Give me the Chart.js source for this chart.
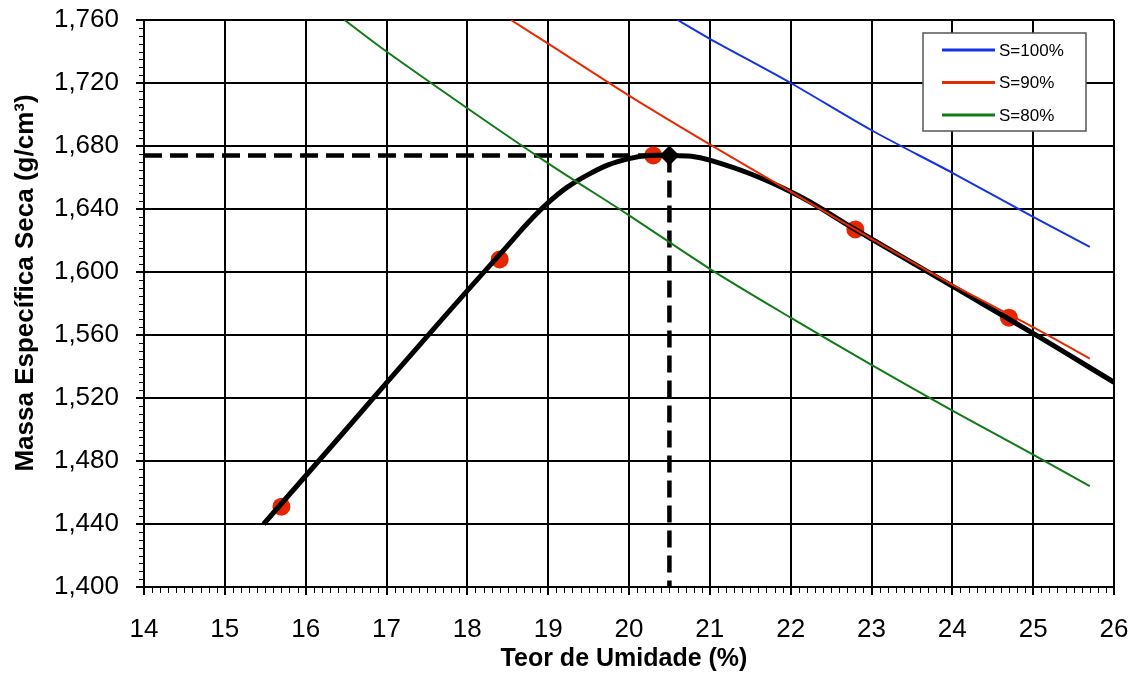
<!DOCTYPE html>
<html>
<head>
<meta charset="utf-8">
<script src="https://cdn.jsdelivr.net/npm/chart.js@4.4.1/dist/chart.umd.min.js"></script>
<style>
  html, body { margin: 0; padding: 0; background: #fff; }
  #wrap { width: 1138px; height: 675px; }
</style>
</head>
<body>
<div id="wrap"><canvas id="compactacao"></canvas></div>
<script>
// ensaio de compactação: pontos medidos
const umidade = [15.7, 18.4, 20.3, 22.8, 24.7];
const massaEspecifica = [1.451, 1.608, 1.674, 1.627, 1.571];

// curva de compactação ajustada
const curvaX = [15.48, 16.5, 17.5, 18.4, 19.0, 19.5, 20.0, 20.5, 21.0, 22.0, 22.8, 24.0, 25.0, 26.0];
const curvaY = [1.440, 1.500, 1.559, 1.611, 1.644, 1.662, 1.672, 1.674, 1.671, 1.651, 1.627, 1.591, 1.561, 1.530];

// umidade ótima e massa específica seca máxima
const wOtima = 20.5;
const rhoMax = 1.674;

// curvas de saturação
const s100X = [20.6, 21, 22, 23, 24, 25, 25.7];
const s100Y = [1.760, 1.748, 1.720, 1.690, 1.663, 1.635, 1.616];
const s90X = [18.54, 19, 20, 21, 22, 23, 24, 25, 25.7];
const s90Y = [1.760, 1.745, 1.712, 1.681, 1.651, 1.621, 1.592, 1.565, 1.545];
const s80X = [16.48, 17, 18, 19, 20, 21, 22, 23, 24, 25, 25.7];
const s80Y = [1.760, 1.740, 1.704, 1.669, 1.636, 1.602, 1.571, 1.541, 1.512, 1.484, 1.464];

const xTicks = [14, 15, 16, 17, 18, 19, 20, 21, 22, 23, 24, 25, 26];
const yTicks = [1.40, 1.44, 1.48, 1.52, 1.56, 1.60, 1.64, 1.68, 1.72, 1.76];
const xMinorStep = 0.1;
const yMinorStep = 0.005;

const FONT = "'Liberation Sans', Arial, sans-serif";
const pts = (xs, ys) => xs.map((x, i) => ({ x: x, y: ys[i] }));

// marcas secundárias nos eixos
const minorTicks = {
  id: 'minorTicks',
  afterDatasetsDraw(chart) {
    const { ctx, chartArea: a, scales: { x, y } } = chart;
    ctx.save();
    ctx.strokeStyle = '#000';
    ctx.lineWidth = 1;
    ctx.beginPath();
    for (let v = x.min; v <= x.max + 1e-9; v += xMinorStep) {
      const px = Math.round(x.getPixelForValue(v)) + 0.5;
      ctx.moveTo(px, a.bottom);
      ctx.lineTo(px, a.bottom + 6);
    }
    for (let v = y.min; v <= y.max + 1e-9; v += yMinorStep) {
      const py = Math.round(y.getPixelForValue(v)) + 0.5;
      ctx.moveTo(a.left - 5, py);
      ctx.lineTo(a.left, py);
    }
    ctx.stroke();
    ctx.restore();
  }
};

// títulos dos eixos
const axisTitles = {
  id: 'axisTitles',
  afterDraw(chart) {
    const { ctx, chartArea: a } = chart;
    ctx.save();
    ctx.fillStyle = '#000';
    ctx.font = 'bold 25px ' + FONT;
    ctx.textAlign = 'center';
    ctx.textBaseline = 'alphabetic';
    ctx.fillText('Teor de Umidade (%)', (a.left + a.right) / 2 - 5, 666);
    ctx.translate(33, 283);
    ctx.rotate(-Math.PI / 2);
    ctx.font = 'bold 26px ' + FONT;
    ctx.fillText('Massa Específica Seca (g/cm³)', 0, 0);
    ctx.restore();
  }
};

// legenda das curvas de saturação, dentro da área do gráfico
const boxLegend = {
  id: 'boxLegend',
  afterDraw(chart) {
    const { ctx, chartArea: a } = chart;
    const left = a.right - 191, top = a.top + 13, w = 163, h = 98;
    ctx.save();
    ctx.fillStyle = '#fff';
    ctx.fillRect(left, top, w, h);
    ctx.strokeStyle = '#555';
    ctx.lineWidth = 1.5;
    ctx.strokeRect(left, top, w, h);
    ctx.font = '17px ' + FONT;
    ctx.textBaseline = 'middle';
    chart.data.datasets.slice(0, 3).forEach((ds, i) => {
      const cy = top + 17 + i * 32.5;
      ctx.strokeStyle = ds.borderColor;
      ctx.lineWidth = 3;
      ctx.beginPath();
      ctx.moveTo(left + 19, cy);
      ctx.lineTo(left + 72, cy);
      ctx.stroke();
      ctx.fillStyle = '#000';
      ctx.fillText(ds.label, left + 76, cy + 1);
    });
    ctx.restore();
  }
};

new Chart(document.getElementById('compactacao'), {
  type: 'scatter',
  data: {
    datasets: [
      { label: 'S=100%', data: pts(s100X, s100Y), showLine: true, borderColor: '#1432e6', borderWidth: 2, pointRadius: 0, tension: 0.3 },
      { label: 'S=90%', data: pts(s90X, s90Y), showLine: true, borderColor: '#e82a00', borderWidth: 2, pointRadius: 0, tension: 0.3 },
      { label: 'S=80%', data: pts(s80X, s80Y), showLine: true, borderColor: '#107a18', borderWidth: 2, pointRadius: 0, tension: 0.3 },
      { label: 'curva', data: pts(curvaX, curvaY), showLine: true, borderColor: '#000', borderWidth: 5, pointRadius: 0, tension: 0.4 },
      { label: 'rho max', data: [{ x: xTicks[0], y: rhoMax }, { x: wOtima, y: rhoMax }], showLine: true, borderColor: '#000', borderWidth: 4.5, borderDash: [18, 8], pointRadius: 0 },
      { label: 'w otima', data: [{ x: wOtima, y: rhoMax }, { x: wOtima, y: yTicks[0] }], showLine: true, borderColor: '#000', borderWidth: 4.5, borderDash: [17, 8], pointRadius: 0 },
      { label: 'ensaio', data: pts(umidade, massaEspecifica), pointRadius: 9, pointBackgroundColor: '#e52600', pointBorderWidth: 0 },
      { label: 'otimo', data: [{ x: wOtima, y: rhoMax }], pointStyle: 'rectRot', pointRadius: 10, pointBackgroundColor: '#000', pointBorderWidth: 0 }
    ]
  },
  options: {
    responsive: true,
    maintainAspectRatio: false,
    animation: false,
    layout: { padding: { left: 0, top: 20, right: 24, bottom: 0 } },
    plugins: { legend: { display: false }, tooltip: { enabled: false } },
    scales: {
      x: {
        type: 'linear',
        min: 14,
        max: 26,
        afterBuildTicks: s => { s.ticks = xTicks.map(v => ({ value: v })); },
        afterFit: s => { s.height = 88; s.paddingLeft = 0; s.paddingRight = 0; },
        ticks: { color: '#000', font: { family: FONT, size: 26 }, padding: 19 },
        grid: { color: '#000', lineWidth: 2, tickLength: 8 },
        border: { color: '#000', width: 2 }
      },
      y: {
        type: 'linear',
        min: 1.4,
        max: 1.76,
        afterBuildTicks: s => { s.ticks = yTicks.map(v => ({ value: v })); },
        afterFit: s => { s.width = 144; s.paddingTop = 0; s.paddingBottom = 0; },
        ticks: { color: '#000', font: { family: FONT, size: 26 }, padding: 17, callback: v => v.toFixed(3).replace('.', ',') },
        grid: { color: '#000', lineWidth: 2, tickLength: 8 },
        border: { color: '#000', width: 2 }
      }
    }
  },
  plugins: [minorTicks, axisTitles, boxLegend]
});
</script>
</body>
</html>
